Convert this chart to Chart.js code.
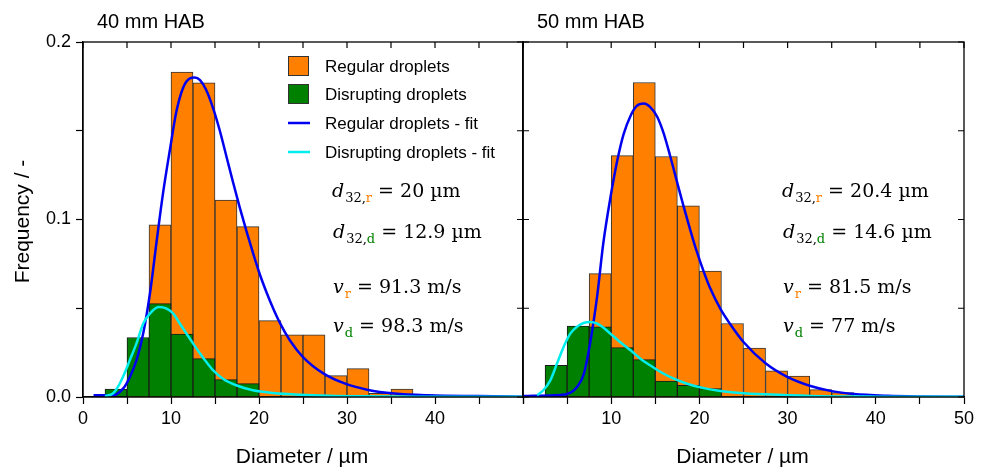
<!DOCTYPE html>
<html>
<head>
  <title>Droplet size distributions</title>
  <script src="https://cdn.jsdelivr.net/npm/chart.js"></script>
  <style>
    body {
      margin: 0;
      background-color: white;
    }
    .wrap {
      position: relative;
      width: 987px;
      height: 470px;
    }
    canvas {
      position: absolute;
      left: 0;
      top: 0;
    }
  </style>
</head>
<body>
  <div class="wrap">
    <canvas id="chartLeft" width="987" height="470"></canvas>
    <canvas id="chartRight" width="987" height="470"></canvas>
  </div>

  <script>
    // bin centres of the 2.5 um histogram classes
    const binCenters = [3.75, 6.25, 8.75, 11.25, 13.75, 16.25, 18.75, 21.25, 23.75, 26.25, 28.75, 31.25, 33.75, 36.25];

    // 40 mm HAB
    const regular40 = [0, 0.01, 0.097, 0.183, 0.177, 0.111, 0.096, 0.043, 0.035, 0.035, 0.012, 0.016, 0.002, 0.0045];
    const disrupt40 = [0.0044, 0.0335, 0.0526, 0.0355, 0.0216, 0.0098, 0.0075, 0, 0, 0, 0, 0, 0, 0];
    const regFit40X = [1.2, 3.4, 4.6, 5.3, 6.1, 6.85, 7.6, 8.4, 9.1, 9.9, 10.6, 11.4, 12.15, 12.7, 13.3, 14.0, 14.8, 15.55, 16.3, 17.05, 17.8, 18.6, 19.3, 20.1, 20.85, 21.6, 22.4, 23.5, 25.0, 27.4, 29.8, 32.4, 35.4, 39.2, 44.9, 50];
    const regFit40Y = [0.001, 0.001, 0.005, 0.011, 0.021, 0.036, 0.058, 0.089, 0.115, 0.140, 0.1605, 0.1745, 0.1795, 0.180, 0.1785, 0.173, 0.1625, 0.150, 0.1355, 0.121, 0.107, 0.093, 0.0815, 0.069, 0.059, 0.050, 0.0415, 0.032, 0.0225, 0.013, 0.0075, 0.004, 0.002, 0.001, 0.0005, 0.0002];
    const disFit40X = [2.5, 3.4, 4.0, 4.6, 5.3, 6.1, 6.85, 7.6, 8.6, 9.5, 10.25, 11.0, 11.75, 12.5, 13.3, 14.0, 14.8, 15.9, 17.4, 19.3, 21.6, 24.6, 28, 32, 38, 50];
    const disFit40Y = [0.0005, 0.002, 0.006, 0.012, 0.0205, 0.0305, 0.0414, 0.047, 0.0507, 0.0498, 0.047, 0.0414, 0.0358, 0.0302, 0.0245, 0.0198, 0.015, 0.0103, 0.0066, 0.0038, 0.0023, 0.0013, 0.0007, 0.0004, 0.0002, 0.0001];

    // 50 mm HAB
    const regular50 = [0, 0.005, 0.0695, 0.136, 0.1772, 0.1355, 0.1077, 0.0709, 0.0414, 0.0276, 0.0147, 0.0118, 0.0042, 0.0025];
    const disrupt50 = [0.0179, 0.0399, 0.0395, 0.0278, 0.0211, 0.009, 0.0066, 0.0047, 0, 0, 0, 0, 0, 0];
    const regFit50X = [0, 3.5, 5.0, 6.1, 6.9, 7.6, 8.4, 9.1, 9.9, 10.7, 11.4, 12.2, 12.9, 13.7, 14.4, 15.2, 15.95, 16.7, 17.5, 18.2, 19.0, 19.7, 20.5, 21.2, 22.4, 23.5, 25.0, 27.5, 29.9, 32.6, 35.0, 37.5, 41.3, 45, 50];
    const regFit50Y = [0.0005, 0.001, 0.0017, 0.0055, 0.013, 0.030, 0.0565, 0.0865, 0.112, 0.1335, 0.148, 0.1585, 0.164, 0.1654, 0.1635, 0.158, 0.1485, 0.1355, 0.1205, 0.1075, 0.0935, 0.082, 0.0705, 0.0615, 0.0495, 0.041, 0.031, 0.019, 0.0115, 0.0062, 0.0033, 0.0017, 0.0007, 0.0003, 0.0001];
    const disFit50X = [1.6, 2.3, 3.1, 3.85, 4.6, 5.36, 6.1, 6.87, 7.6, 8.4, 9.14, 9.9, 11.0, 12.2, 13.3, 14.4, 15.6, 17.1, 18.6, 20.5, 22.4, 24.6, 27.5, 32.6, 40, 50];
    const disFit50Y = [0.001, 0.0038, 0.0094, 0.0188, 0.0282, 0.0357, 0.0395, 0.0417, 0.0423, 0.0414, 0.039, 0.0357, 0.031, 0.0263, 0.0216, 0.0179, 0.0141, 0.0103, 0.0075, 0.005, 0.0034, 0.0023, 0.0015, 0.0006, 0.0002, 0.0001];

    const seriesLabels = ['Regular droplets', 'Disrupting droplets', 'Regular droplets - fit', 'Disrupting droplets - fit'];
    const panelTitles = ['40 mm HAB', '50 mm HAB'];
    const d32Regular = ['20', '20.4'];
    const d32Disrupt = ['12.9', '14.6'];
    const velRegular = ['91.3', '81.5'];
    const velDisrupt = ['98.3', '77'];

    const ORANGE = '#ff8000';
    const GREEN = '#008000';
    const BLUE = '#0000f0';
    const CYAN = '#00eeee';

    Chart.defaults.font.family = '"Liberation Sans", Arial, sans-serif';
    Chart.defaults.font.size = 18;
    Chart.defaults.color = '#000';

    function toPoints(xs, ys) {
      return xs.map((x, i) => ({ x: x, y: ys[i] }));
    }

    function drawMath(ctx, x, y, sym, sub, key, keyColor, rest) {
      ctx.textAlign = 'left';
      ctx.textBaseline = 'alphabetic';
      ctx.fillStyle = '#000';
      ctx.font = 'italic 19px "DejaVu Serif"';
      ctx.fillText(sym, x, y);
      x += ctx.measureText(sym).width + 1;
      ctx.font = '13px "DejaVu Serif"';
      if (sub) {
        ctx.fillText(sub, x, y + 5);
        x += ctx.measureText(sub).width;
      }
      ctx.fillStyle = keyColor;
      ctx.fillText(key, x, y + 5);
      x += ctx.measureText(key).width;
      ctx.fillStyle = '#000';
      ctx.font = '19px "DejaVu Serif"';
      ctx.fillText(rest, x, y);
    }

    function makeChart(id, p, regular, disrupt, regFit, disFit) {
      const left = p === 0;

      const framePlugin = {
        id: 'frame' + p,
        afterDraw(chart) {
          const ctx = chart.ctx;
          const a = chart.chartArea;
          const xs = chart.scales.x;
          const ys = chart.scales.y;
          ctx.save();
          ctx.strokeStyle = '#000';
          ctx.lineWidth = 1.3;
          ctx.strokeRect(a.left, a.top, a.right - a.left, a.bottom - a.top);
          ctx.lineWidth = 1.2;
          ctx.beginPath();
          for (let v = 0; v <= 50; v += 5) {
            const px = xs.getPixelForValue(v);
            ctx.moveTo(px, a.top);
            ctx.lineTo(px, a.top + 6);
          }
          for (let k = 0; k <= 4; k++) {
            const py = ys.getPixelForValue(k * 0.05);
            ctx.moveTo(a.right, py);
            ctx.lineTo(a.right - 6, py);
            if (!left) {
              ctx.moveTo(a.left, py);
              ctx.lineTo(a.left + 6, py);
            }
          }
          ctx.stroke();

          // titles
          ctx.fillStyle = '#000';
          ctx.font = '20px "Liberation Sans"';
          ctx.textAlign = 'left';
          ctx.textBaseline = 'alphabetic';
          ctx.fillText(panelTitles[p], a.left + 14, 28);
          ctx.font = '21px "Liberation Sans"';
          ctx.textAlign = 'center';
          ctx.fillText('Diameter / \u00b5m', (a.left + a.right) / 2 - 1, 463);
          if (left) {
            ctx.save();
            ctx.translate(29, (a.top + a.bottom) / 2 + 2);
            ctx.rotate(-Math.PI / 2);
            ctx.fillText('Frequency / -', 0, 0);
            ctx.restore();

            // legend
            const ds = chart.data.datasets;
            const rows = [66, 94, 123, 152];
            const order = ['reg', 'dis', 'regFit', 'disFit'];
            ctx.font = '17px "Liberation Sans"';
            ctx.textAlign = 'left';
            ctx.textBaseline = 'middle';
            order.forEach((key, i) => {
              const d = ds.find(s => s.key === key);
              const cy = rows[i];
              if (d.type === 'line') {
                ctx.strokeStyle = d.borderColor;
                ctx.lineWidth = 2.5;
                ctx.beginPath();
                ctx.moveTo(288, cy);
                ctx.lineTo(310, cy);
                ctx.stroke();
              } else {
                ctx.fillStyle = d.backgroundColor;
                ctx.fillRect(288, cy - 10, 21, 20);
                ctx.strokeStyle = '#333';
                ctx.lineWidth = 1;
                ctx.strokeRect(288.5, cy - 9.5, 20, 19);
              }
              ctx.fillStyle = '#000';
              ctx.fillText(d.label, 325, cy + 1);
            });
          }

          const tx = left ? 332 : 782;
          drawMath(ctx, tx, 197, 'd', '32,', 'r', ORANGE, ' = ' + d32Regular[p] + ' \u00b5m');
          drawMath(ctx, tx + 1, 238, 'd', '32,', 'd', GREEN, ' = ' + d32Disrupt[p] + ' \u00b5m');
          drawMath(ctx, tx + 1, 293, 'v', '', 'r', ORANGE, ' = ' + velRegular[p] + ' m/s');
          drawMath(ctx, tx + 1, 332, 'v', '', 'd', GREEN, ' = ' + velDisrupt[p] + ' m/s');
          ctx.restore();
        }
      };

      return new Chart(document.getElementById(id), {
        type: 'bar',
        data: {
          datasets: [
            {
              key: 'disFit',
              type: 'line',
              label: seriesLabels[3],
              data: toPoints(disFit[0], disFit[1]),
              borderColor: CYAN,
              borderWidth: 2.5,
              pointRadius: 0,
              cubicInterpolationMode: 'monotone',
              order: 0
            },
            {
              key: 'regFit',
              type: 'line',
              label: seriesLabels[2],
              data: toPoints(regFit[0], regFit[1]),
              borderColor: BLUE,
              borderWidth: 2.5,
              pointRadius: 0,
              cubicInterpolationMode: 'monotone',
              order: 1
            },
            {
              key: 'dis',
              label: seriesLabels[1],
              data: toPoints(binCenters, disrupt),
              backgroundColor: GREEN,
              borderColor: '#1a1a1a',
              borderWidth: 1,
              grouped: false,
              barPercentage: 1,
              categoryPercentage: 1,
              order: 2
            },
            {
              key: 'reg',
              label: seriesLabels[0],
              data: toPoints(binCenters, regular),
              backgroundColor: ORANGE,
              borderColor: '#333',
              borderWidth: 1,
              grouped: false,
              barPercentage: 1,
              categoryPercentage: 1,
              order: 3
            }
          ]
        },
        options: {
          responsive: false,
          animation: false,
          layout: {
            padding: { left: 0, top: 42, right: left ? 464 : 23, bottom: 0 }
          },
          plugins: {
            legend: { display: false },
            tooltip: { enabled: false }
          },
          scales: {
            x: {
              type: 'linear',
              min: 0,
              max: 50,
              offset: false,
              afterFit: s => { s.height = 73; },
              grid: { drawOnChartArea: false, offset: false, tickLength: 7, color: '#000', tickWidth: 1.2 },
              border: { color: '#000', width: 1.3 },
              ticks: {
                stepSize: 5,
                autoSkip: false,
                maxRotation: 0,
                padding: 4,
                callback: v => (v % 10 === 0 && (left ? v < 50 : v > 0)) ? v : ''
              }
            },
            y: {
              min: 0,
              max: 0.2,
              afterFit: s => { s.width = left ? 83 : 523; },
              grid: { drawOnChartArea: false, drawTicks: left, tickLength: 7, color: '#000', tickWidth: 1.2 },
              border: { color: '#000', width: 1.3 },
              ticks: {
                display: left,
                stepSize: 0.05,
                padding: 5,
                callback: v => Math.round(v * 20) % 2 === 0 ? v.toFixed(1) : ''
              }
            }
          }
        },
        plugins: [framePlugin]
      });
    }

    window.onload = function() {
      makeChart('chartLeft', 0, regular40, disrupt40, [regFit40X, regFit40Y], [disFit40X, disFit40Y]);
      makeChart('chartRight', 1, regular50, disrupt50, [regFit50X, regFit50Y], [disFit50X, disFit50Y]);
    };
  </script>
</body>
</html>
